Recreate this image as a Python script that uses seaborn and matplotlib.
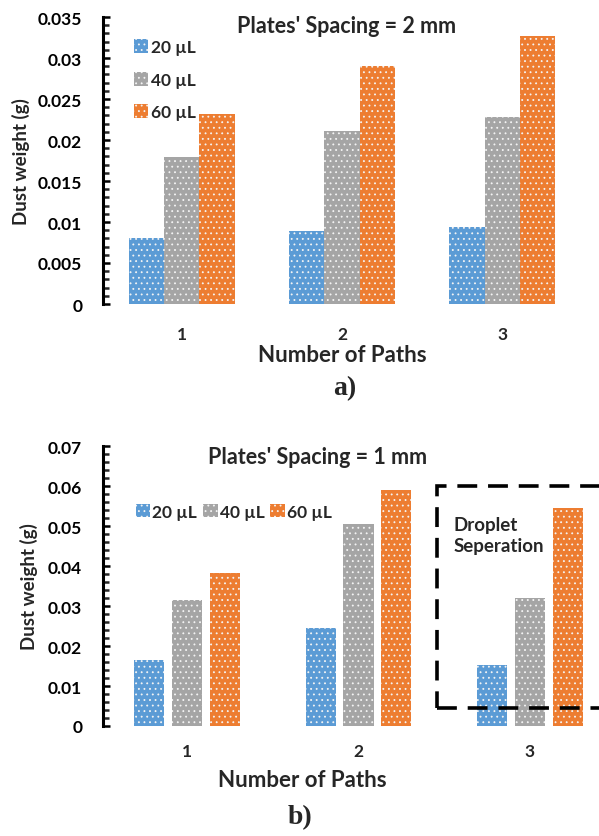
import numpy as np
import pandas as pd
import matplotlib
matplotlib.use("Agg")
import matplotlib.pyplot as plt
from matplotlib.patches import Rectangle
from matplotlib.ticker import MultipleLocator
import seaborn as sns

# ---------------- data ----------------
paths = ["1", "2", "3"]
volumes = ["20 µL", "40 µL", "60 µL"]

# Plates' spacing = 2 mm
a_20 = [0.0081, 0.0089, 0.0094]
a_40 = [0.0179, 0.0211, 0.0228]
a_60 = [0.0232, 0.0290, 0.0327]

# Plates' spacing = 1 mm
b_20 = [0.0166, 0.0246, 0.0153]
b_40 = [0.0314, 0.0506, 0.0321]
b_60 = [0.0383, 0.0590, 0.0545]

colors = ["#5B9BD5", "#A5A5A5", "#ED7D31"]

def long_df(s20, s40, s60):
    rows = []
    for vol, ser in zip(volumes, [s20, s40, s60]):
        for p, v in zip(paths, ser):
            rows.append({"path": p, "volume": vol, "weight": v})
    return pd.DataFrame(rows)

df_a = long_df(a_20, a_40, a_60)
df_b = long_df(b_20, b_40, b_60)

sns.set_theme(style="white")
plt.rcParams["font.family"] = ["Lato", "DejaVu Sans"]
plt.rcParams["hatch.linewidth"] = 0.6

fig = plt.figure(figsize=(5.99, 8.37), dpi=100)
ax1 = fig.add_axes([103/599, 1-305/837, 478/599, 287/837])
ax2 = fig.add_axes([103/599, 1-727/837, 511/599, 280/837])

FS = 12.5

def style_axes(ax, ymax, major, minor, xpad):
    ax.set_ylim(0, ymax)
    ax.set_xlim(-0.49, 2.49)
    ax.yaxis.set_major_locator(MultipleLocator(major))
    ax.yaxis.set_minor_locator(MultipleLocator(minor))
    for s in ["top", "right", "bottom"]:
        ax.spines[s].set_visible(False)
    ax.spines["left"].set_linewidth(2.2)
    ax.spines["left"].set_color("black")
    ax.tick_params(axis="y", which="major", direction="in", length=5, width=1.8,
                   left=True, labelsize=FS, pad=15, colors="black")
    ax.tick_params(axis="y", which="minor", direction="in", length=4.5, width=1.8,
                   left=True)
    ax.tick_params(axis="x", length=0, labelsize=FS, pad=xpad)
    ax.set_xlabel("")
    ax.set_ylabel("")
    ax.yaxis.set_major_formatter(matplotlib.ticker.FuncFormatter(
        lambda v, p: "0" if abs(v) < 1e-12 else f"{v:.3f}".rstrip("0")))
    ax.grid(False)

def draw(ax, df, gap):
    sns.barplot(data=df, x="path", y="weight", hue="volume", order=paths,
                hue_order=volumes, palette=colors, errorbar=None, width=0.66,
                gap=gap, saturation=1, legend=False, ax=ax, linewidth=0)
    for cont in ax.containers:
        for p in cont.patches:
            p.set_hatch("...")
            p.set_edgecolor("#f4f4f4")
            p.set_linewidth(0)

draw(ax1, df_a, 0.0)
draw(ax2, df_b, 0.2)

style_axes(ax1, 0.035, 0.005, 0.001, 16)
style_axes(ax2, 0.07, 0.01, 0.002, 12)
for lab in ax1.get_yticklabels() + ax1.get_xticklabels() + ax2.get_yticklabels() + ax2.get_xticklabels():
    lab.set_fontweight("bold")

# legends
lp = dict(weight="bold", size=FS)
ax1.legend([c.patches[0] for c in ax1.containers], volumes, loc="center left",
           bbox_to_anchor=(0.064, 0.781), frameon=False, prop=lp, borderaxespad=0,
           borderpad=0, handlelength=0.85, handleheight=0.85, handletextpad=0.15,
           labelspacing=0.95)
ax2.legend([c.patches[0] for c in ax2.containers], volumes, loc="center left",
           bbox_to_anchor=(0.064, 0.766), frameon=False, prop=lp, borderaxespad=0,
           borderpad=0, handlelength=0.85, handleheight=0.85, handletextpad=0.1,
           ncol=3, columnspacing=0.35)

# titles inside plots
ax1.text(0.509, 0.971, "Plates' Spacing = 2 mm", transform=ax1.transAxes,
         ha="center", va="center", fontsize=15.5, fontweight="bold")
ax2.text(0.42, 0.964, "Plates' Spacing = 1 mm", transform=ax2.transAxes,
         ha="center", va="center", fontsize=15.5, fontweight="bold")

# droplet separation box
ax2.add_patch(Rectangle((1.458, 0.0046), 2.0, 0.0599 - 0.0046, fill=False,
                        edgecolor="black", linewidth=2.6, linestyle=(0, (5.5, 3.0)),
                        clip_on=False, zorder=5))
ax2.text(1.554, 0.0478, "Droplet\nSeperation", ha="left", va="center",
         fontsize=13.5, fontweight="bold", linespacing=1.25)

# axis titles
fig.text(21/599, 1-162/837, "Dust weight (g)", rotation=90, ha="center", va="center",
         fontsize=13.5, fontweight="bold")
fig.text(29/599, 1-587/837, "Dust weight (g)", rotation=90, ha="center", va="center",
         fontsize=13.5, fontweight="bold")
fig.text(342/599, 1-356/837, "Number of Paths", ha="center", va="center",
         fontsize=16, fontweight="bold")
fig.text(302/599, 1-781/837, "Number of Paths", ha="center", va="center",
         fontsize=16, fontweight="bold")
fig.text(345/599, 1-389/837, "a)", ha="center", va="center", fontsize=20,
         fontweight="bold", family="Liberation Serif")
fig.text(300/599, 1-818/837, "b)", ha="center", va="center", fontsize=20,
         fontweight="bold", family="Liberation Serif")

fig.savefig("out.png", dpi=100)
